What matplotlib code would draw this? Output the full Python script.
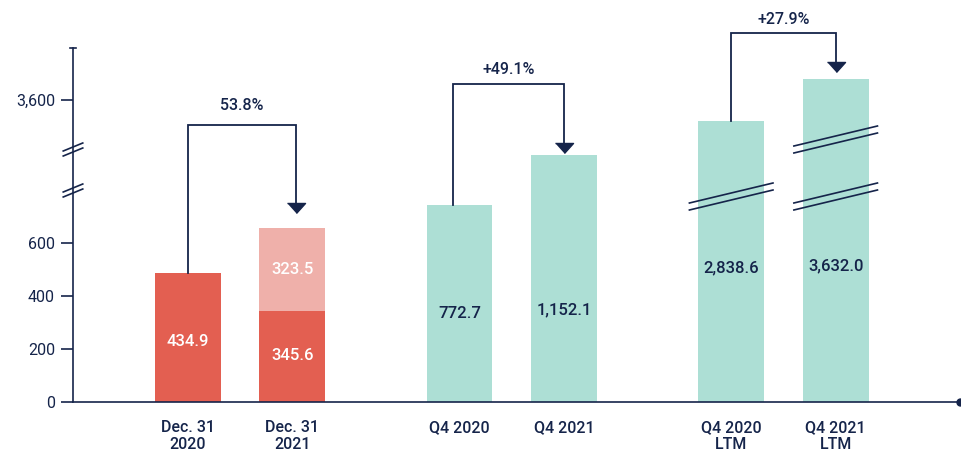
import numpy as np
import matplotlib.pyplot as plt

plt.rcParams['font.family'] = ['Roboto', 'DejaVu Sans']

navy = '#15244a'
red = '#e35f51'
pink = '#efb0aa'
teal = '#addfd5'

# data
categories = ['Dec. 31\n2020', 'Dec. 31\n2021', 'Q4 2020', 'Q4 2021', 'Q4 2020\nLTM', 'Q4 2021\nLTM']
base_values = [434.9, 345.6, 772.7, 1152.1, 2838.6, 3632.0]
top_values = [0, 323.5, 0, 0, 0, 0]
base_labels = ['434.9', '345.6', '772.7', '1,152.1', '2,838.6', '3,632.0']
top_labels = ['', '323.5', '', '', '', '']
growth_labels = ['53.8%', '+49.1%', '+27.9%']
yticks = [0, 200, 400, 600, 3600]

# hand-drawn broken y scale (not to scale in the source): value -> pixels above the x-axis
knot_val = [0, 345.6, 400, 434.9, 600, 772.7, 1152.1, 2838.6, 3600, 3632, 4000, 4600]
knot_pos = [0, 91, 106, 129, 159, 197, 247, 281, 302, 323, 354, 402]

def fwd(v):
    return np.interp(v, knot_val, knot_pos)

def inv(p):
    return np.interp(p, knot_pos, knot_val)

xpos = np.array([0, 1, 2.6, 3.6, 5.2, 6.2])
width = 0.63
base_colors = [red, red, teal, teal, teal, teal]
label_colors = ['white', 'white', navy, navy, navy, navy]
label_px = [61, 46, 89, 92, 134, 136]

fig = plt.figure(figsize=(9.62, 4.5), dpi=100)
ax = fig.add_axes([73 / 962, 48 / 450, 887 / 962, 402 / 450])
ax.set_yscale('function', functions=(fwd, inv))
ax.set_ylim(0, 4600)
ax.set_xlim(-1.10, 7.39)

ax.bar(xpos, base_values, width, color=base_colors, zorder=2)
ax.bar(xpos, top_values, width, bottom=base_values, color=pink, zorder=2)

for i in range(len(xpos)):
    ax.text(xpos[i], inv(label_px[i]), base_labels[i], color=label_colors[i],
            ha='center', va='center', fontsize=12, fontweight='medium', zorder=4)
    if top_labels[i]:
        ax.text(xpos[i], inv(132), top_labels[i], color='white',
                ha='center', va='center', fontsize=12, fontweight='medium', zorder=4)

# growth brackets (heights in pixels above x-axis)
pairs = [(0, 1), (2, 3), (4, 5)]
bracket_px = [277, 318, 369]
tip_px = [189, 249, 330]
text_px = [297, 332, 382]
tri = [(-9, 5), (9, 5), (0, -5)]
for k, (a, b) in enumerate(pairs):
    start = base_values[a] + top_values[a]
    x1, x2 = xpos[a], xpos[b]
    if k == 1:
        x1 = x1 - 0.067
    if k == 0:
        x2 = x2 + 0.03
    top = inv(bracket_px[k])
    head = inv(tip_px[k] + 5)
    ax.plot([x1, x1, x2, x2], [start, top, top, head], color=navy, lw=1.3,
            clip_on=False, zorder=3, solid_joinstyle='miter')
    ax.plot([x2], [head], marker=tri, markersize=13, color=navy, clip_on=False, zorder=3)
    ax.text((x1 + x2) / 2, inv(text_px[k]), growth_labels[k], color=navy,
            ha='center', va='center', fontsize=11.5, fontweight='medium')

# break marks on the tall bars
def break_mark(xc, px, half=0.40, rise=10, gap=7):
    for off in (0, -gap):
        ax.plot([xc - half, xc + half], [inv(px - rise + off), inv(px + rise + off)],
                color=navy, lw=1.2, clip_on=False, zorder=3)

break_mark(xpos[4], 209)
break_mark(xpos[5], 209)
break_mark(xpos[5], 266)

# axes styling
for s in ['top', 'right']:
    ax.spines[s].set_visible(False)
ax.spines['left'].set_bounds(0, 4000)
ax.spines['left'].set_color(navy)
ax.spines['bottom'].set_color(navy)
ax.spines['left'].set_linewidth(1.2)
ax.spines['bottom'].set_linewidth(1.2)
ax.plot([1], [0], marker='o', markersize=5, color=navy, transform=ax.transAxes, clip_on=False)

ytr = ax.get_yaxis_transform()
ax.plot([-0.0035, 0.0035], [4000, 4000], color=navy, lw=1.2, clip_on=False, transform=ytr)

# axis break marks
for px in (214, 255):
    for off in (0, -5):
        ax.plot([-0.011, 0.011], [inv(px - 4 + off), inv(px + 4 + off)], color=navy, lw=1.2,
                clip_on=False, transform=ytr)

ax.set_yticks(yticks)
ax.set_yticklabels(['{:,}'.format(v) for v in yticks])
ax.tick_params(axis='y', length=9, width=1.2, color=navy, labelcolor=navy, labelsize=11.5, pad=4)
ax.set_xticks(xpos)
ax.set_xticklabels(categories)
ax.tick_params(axis='x', length=0, labelcolor=navy, labelsize=11.5, pad=13)
for t in ax.get_xticklabels():
    t.set_fontweight('medium')
    t.set_linespacing(1.15)
ax.yaxis.set_minor_locator(plt.NullLocator())

fig.savefig('out.png', dpi=100)
